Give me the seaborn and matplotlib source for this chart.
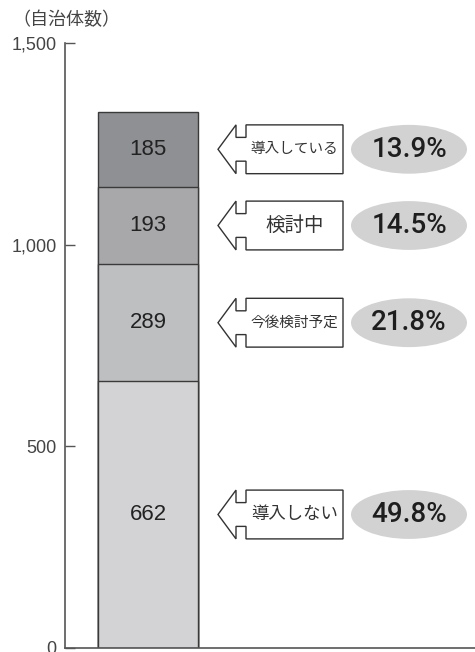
import matplotlib
matplotlib.use("Agg")
import matplotlib.pyplot as plt
import seaborn as sns
import pandas as pd
import numpy as np
from matplotlib.patches import Polygon, Ellipse
from matplotlib.ticker import FuncFormatter

# Survey responses (number of municipalities), stacked bottom to top
categories = ["導入しない", "今後検討予定", "検討中", "導入している"]
counts = [662, 289, 193, 185]
shares = ["49.8%", "21.8%", "14.5%", "13.9%"]
yticks = [0, 500, 1000, 1500]
unit_label = "（自治体数）"

seg_colors = ["#d3d3d5", "#bebfc1", "#a8a8ab", "#8f9093"]
label_sizes = [12.5, 10.5, 14, 10.5]

sns.set_theme(style="white")
plt.rcParams["font.family"] = ["Liberation Sans", "Noto Sans CJK JP", "DejaVu Sans"]

fig = plt.figure(figsize=(4.75, 6.52), dpi=100)
ax = fig.add_axes([65 / 475, 4 / 652, 410 / 475, 605 / 652])

tops = np.cumsum(counts)
bottoms = tops - np.array(counts)
df = pd.DataFrame({"group": [""] * len(counts), "top": tops, "category": categories})

# Stack by drawing cumulative totals, tallest first, each lower one on top
for i in reversed(range(len(counts))):
    sns.barplot(data=df.iloc[[i]], x="group", y="top", color=seg_colors[i],
                saturation=1, width=1.0, edgecolor="#3a3a3a", linewidth=1.0,
                ax=ax)

# Callout arrow geometry (x in bar widths, y half-height / neck in data units)
tip_x, back_x, box_l, box_r = 0.70, 0.88, 0.98, 1.95
half_h, neck = 60.5, 31
ell_x, ell_w = 2.61, 1.16

for i, (n, cat, pct) in enumerate(zip(counts, categories, shares)):
    yc = bottoms[i] + n / 2
    ax.text(0, yc, f"{n}", ha="center", va="center", fontsize=16,
            color="#222222")
    pts = [(tip_x, yc), (back_x, yc + half_h), (back_x, yc + half_h - neck),
           (box_l, yc + half_h - neck), (box_l, yc + half_h),
           (box_r, yc + half_h), (box_r, yc - half_h),
           (box_l, yc - half_h), (box_l, yc - half_h + neck),
           (back_x, yc - half_h + neck), (back_x, yc - half_h)]
    ax.add_patch(Polygon(pts, closed=True, facecolor="white",
                         edgecolor="#333333", linewidth=1.0, zorder=3))
    ax.text((box_l + box_r) / 2, yc, cat, ha="center", va="center",
            fontsize=label_sizes[i], color="#333333",
            family=["Noto Sans CJK JP", "DejaVu Sans"], zorder=4)
    ax.add_patch(Ellipse((ell_x, yc), ell_w, 2 * half_h, facecolor="#d2d2d2",
                         edgecolor="none", zorder=3))
    ax.text(ell_x, yc, pct, ha="center", va="center", fontsize=20,
            color="#1e1e1e", family=["Roboto", "Liberation Sans"],
            fontweight="medium", zorder=4)

ax.set_xlim(-0.83, 3.27)
ax.set_ylim(0, 1500)
ax.set_yticks(yticks)
ax.yaxis.set_major_formatter(FuncFormatter(lambda v, _: f"{int(v):,}"))
ax.set_xticks([])
ax.set_xlabel("")
ax.set_ylabel("")

for side in ("top", "right"):
    ax.spines[side].set_visible(False)
for side in ("left", "bottom"):
    ax.spines[side].set_color("#555555")
    ax.spines[side].set_linewidth(1.2)

ax.tick_params(axis="y", direction="in", length=7, width=1.0, color="#555555",
               labelsize=13, labelcolor="#444444", pad=6, left=True)

fig.text(12 / 475, 1 - 20 / 652, unit_label, ha="left", va="center",
         fontsize=13, color="#444444",
         family=["Noto Sans CJK JP", "DejaVu Sans"])

fig.savefig("out.png", dpi=100)
